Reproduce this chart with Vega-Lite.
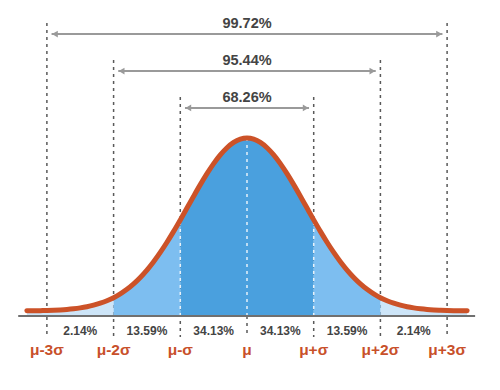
{
  "$schema": "https://vega.github.io/schema/vega-lite/v6.json",
  "width": 500,
  "height": 390,
  "autosize": {"type": "fit", "contains": "padding"},
  "padding": 0,
  "background": "white",
  "config": {"view": {"stroke": null}, "axis": {"disable": true}, "legend": {"disable": true}},
  "datasets": {
    "curve": [
      {"z": -3.3, "y": 0.0292}, {"z": -3.2, "y": 0.0295}, {"z": -3.1, "y": 0.0301}, {"z": -3.0, "y": 0.0310},
      {"z": -2.9, "y": 0.0324}, {"z": -2.8, "y": 0.0344}, {"z": -2.7, "y": 0.0371}, {"z": -2.6, "y": 0.0408},
      {"z": -2.5, "y": 0.0457}, {"z": -2.4, "y": 0.0522}, {"z": -2.3, "y": 0.0607}, {"z": -2.2, "y": 0.0717},
      {"z": -2.1, "y": 0.0855}, {"z": -2.0, "y": 0.1028}, {"z": -1.9, "y": 0.1241}, {"z": -1.8, "y": 0.1498},
      {"z": -1.7, "y": 0.1805}, {"z": -1.6, "y": 0.2164}, {"z": -1.5, "y": 0.2578}, {"z": -1.4, "y": 0.3047},
      {"z": -1.3, "y": 0.3570}, {"z": -1.2, "y": 0.4142}, {"z": -1.1, "y": 0.4755}, {"z": -1.0, "y": 0.5400},
      {"z": -0.9, "y": 0.6063}, {"z": -0.8, "y": 0.6729}, {"z": -0.7, "y": 0.7380}, {"z": -0.6, "y": 0.7997},
      {"z": -0.5, "y": 0.8561}, {"z": -0.4, "y": 0.9053}, {"z": -0.3, "y": 0.9455}, {"z": -0.2, "y": 0.9754},
      {"z": -0.1, "y": 0.9938}, {"z": 0.0, "y": 1.0},
      {"z": 0.1, "y": 0.9938}, {"z": 0.2, "y": 0.9754}, {"z": 0.3, "y": 0.9455}, {"z": 0.4, "y": 0.9053},
      {"z": 0.5, "y": 0.8561}, {"z": 0.6, "y": 0.7997}, {"z": 0.7, "y": 0.7380}, {"z": 0.8, "y": 0.6729},
      {"z": 0.9, "y": 0.6063}, {"z": 1.0, "y": 0.5400}, {"z": 1.1, "y": 0.4755}, {"z": 1.2, "y": 0.4142},
      {"z": 1.3, "y": 0.3570}, {"z": 1.4, "y": 0.3047}, {"z": 1.5, "y": 0.2578}, {"z": 1.6, "y": 0.2164},
      {"z": 1.7, "y": 0.1805}, {"z": 1.8, "y": 0.1498}, {"z": 1.9, "y": 0.1241}, {"z": 2.0, "y": 0.1028},
      {"z": 2.1, "y": 0.0855}, {"z": 2.2, "y": 0.0717}, {"z": 2.3, "y": 0.0607}, {"z": 2.4, "y": 0.0522},
      {"z": 2.5, "y": 0.0457}, {"z": 2.6, "y": 0.0408}, {"z": 2.7, "y": 0.0371}, {"z": 2.8, "y": 0.0344},
      {"z": 2.9, "y": 0.0324}, {"z": 3.0, "y": 0.0310}, {"z": 3.1, "y": 0.0301}, {"z": 3.2, "y": 0.0295},
      {"z": 3.3, "y": 0.0292}
    ],
    "guides": [
      {"z": -3, "y": 1.646, "y2": -0.118},
      {"z": -2, "y": 1.438, "y2": -0.118},
      {"z": -1, "y": 1.230, "y2": -0.118},
      {"z": 0, "y": 0.0, "y2": -0.118},
      {"z": 1, "y": 1.230, "y2": -0.118},
      {"z": 2, "y": 1.438, "y2": -0.118},
      {"z": 3, "y": 1.646, "y2": -0.118}
    ],
    "inner": [
      {"z": -1, "y": 0.0, "y2": 0.54},
      {"z": 0, "y": 0.0, "y2": 0.99},
      {"z": 1, "y": 0.0, "y2": 0.54}
    ],
    "arrows": [
      {"z": -2.93, "z2": 2.93, "y": 1.584, "label": "99.72%", "ty": 1.640},
      {"z": -1.93, "z2": 1.93, "y": 1.376, "label": "95.44%", "ty": 1.433},
      {"z": -0.93, "z2": 0.93, "y": 1.169, "label": "68.26%", "ty": 1.225}
    ],
    "heads": [
      {"z": -2.88, "y": 1.584, "dir": "L"}, {"z": 2.88, "y": 1.584, "dir": "R"},
      {"z": -1.88, "y": 1.376, "dir": "L"}, {"z": 1.88, "y": 1.376, "dir": "R"},
      {"z": -0.88, "y": 1.169, "dir": "L"}, {"z": 0.88, "y": 1.169, "dir": "R"}
    ],
    "pct": [
      {"z": -2.5, "y": -0.084, "label": "2.14%"},
      {"z": -1.5, "y": -0.084, "label": "13.59%"},
      {"z": -0.5, "y": -0.084, "label": "34.13%"},
      {"z": 0.5, "y": -0.084, "label": "34.13%"},
      {"z": 1.5, "y": -0.084, "label": "13.59%"},
      {"z": 2.5, "y": -0.084, "label": "2.14%"}
    ],
    "sig": [
      {"z": -3, "y": -0.19, "label": "μ-3σ"},
      {"z": -2, "y": -0.19, "label": "μ-2σ"},
      {"z": -1, "y": -0.19, "label": "μ-σ"},
      {"z": 0, "y": -0.19, "label": "μ"},
      {"z": 1, "y": -0.19, "label": "μ+σ"},
      {"z": 2, "y": -0.19, "label": "μ+2σ"},
      {"z": 3, "y": -0.19, "label": "μ+3σ"}
    ],
    "base": [{"z": -3.43, "z2": 3.42, "y": 0}]
  },
  "layer": [
    {
      "data": {"name": "guides"},
      "mark": {"type": "rule", "stroke": "#5a5a5a", "strokeWidth": 1.5, "strokeDash": [3, 4]},
      "encoding": {
        "x": {"field": "z", "type": "quantitative", "scale": {"domain": [-3.703, 3.793], "nice": false, "zero": false}},
        "y": {"field": "y", "type": "quantitative", "scale": {"domain": [-0.4157, 1.7753], "nice": false, "zero": false}},
        "y2": {"field": "y2"}
      }
    },
    {
      "data": {"name": "curve"},
      "transform": [{"filter": "datum.z <= -2"}],
      "mark": {"type": "area", "color": "#c8e2f7", "opacity": 0.9, "interpolate": "monotone"},
      "encoding": {"x": {"field": "z", "type": "quantitative"}, "y": {"field": "y", "type": "quantitative"}}
    },
    {
      "data": {"name": "curve"},
      "transform": [{"filter": "datum.z >= 2"}],
      "mark": {"type": "area", "color": "#c8e2f7", "opacity": 0.9, "interpolate": "monotone"},
      "encoding": {"x": {"field": "z", "type": "quantitative"}, "y": {"field": "y", "type": "quantitative"}}
    },
    {
      "data": {"name": "curve"},
      "transform": [{"filter": "datum.z >= -2 && datum.z <= -1"}],
      "mark": {"type": "area", "color": "#7dbef0", "interpolate": "monotone"},
      "encoding": {"x": {"field": "z", "type": "quantitative"}, "y": {"field": "y", "type": "quantitative"}}
    },
    {
      "data": {"name": "curve"},
      "transform": [{"filter": "datum.z >= 1 && datum.z <= 2"}],
      "mark": {"type": "area", "color": "#7dbef0", "interpolate": "monotone"},
      "encoding": {"x": {"field": "z", "type": "quantitative"}, "y": {"field": "y", "type": "quantitative"}}
    },
    {
      "data": {"name": "curve"},
      "transform": [{"filter": "datum.z >= -1 && datum.z <= 1"}],
      "mark": {"type": "area", "color": "#4aa0de", "interpolate": "monotone"},
      "encoding": {"x": {"field": "z", "type": "quantitative"}, "y": {"field": "y", "type": "quantitative"}}
    },
    {
      "data": {"name": "inner"},
      "mark": {"type": "rule", "stroke": "#ffffff", "strokeWidth": 1.5, "strokeDash": [3, 4], "opacity": 0.85},
      "encoding": {"x": {"field": "z", "type": "quantitative"}, "y": {"field": "y", "type": "quantitative"}, "y2": {"field": "y2"}}
    },
    {
      "data": {"name": "base"},
      "mark": {"type": "rule", "stroke": "#707070", "strokeWidth": 2},
      "encoding": {"x": {"field": "z", "type": "quantitative"}, "x2": {"field": "z2"}, "y": {"field": "y", "type": "quantitative"}}
    },
    {
      "data": {"name": "curve"},
      "mark": {"type": "line", "color": "#cc5228", "strokeWidth": 5, "interpolate": "monotone", "strokeCap": "round"},
      "encoding": {"x": {"field": "z", "type": "quantitative"}, "y": {"field": "y", "type": "quantitative"}}
    },
    {
      "data": {"name": "arrows"},
      "mark": {"type": "rule", "stroke": "#9a9a9a", "strokeWidth": 2},
      "encoding": {"x": {"field": "z", "type": "quantitative"}, "x2": {"field": "z2"}, "y": {"field": "y", "type": "quantitative"}}
    },
    {
      "data": {"name": "heads"},
      "mark": {"type": "point", "filled": true, "color": "#9a9a9a", "opacity": 1, "size": 45},
      "encoding": {
        "x": {"field": "z", "type": "quantitative"},
        "y": {"field": "y", "type": "quantitative"},
        "shape": {"field": "dir", "type": "nominal", "scale": {"domain": ["L", "R"], "range": ["triangle-left", "triangle-right"]}, "legend": null}
      }
    },
    {
      "data": {"name": "arrows"},
      "mark": {"type": "text", "font": "Liberation Sans", "fontWeight": "bold", "fontSize": 14.5, "color": "#444444", "baseline": "middle", "align": "center"},
      "encoding": {"x": {"value": 247}, "y": {"field": "ty", "type": "quantitative"}, "text": {"field": "label"}}
    },
    {
      "data": {"name": "pct"},
      "mark": {"type": "text", "font": "Liberation Sans", "fontWeight": "bold", "fontSize": 12, "color": "#444444", "baseline": "middle", "align": "center"},
      "encoding": {"x": {"field": "z", "type": "quantitative"}, "y": {"field": "y", "type": "quantitative"}, "text": {"field": "label"}}
    },
    {
      "data": {"name": "sig"},
      "mark": {"type": "text", "font": "Liberation Sans", "fontWeight": "bold", "fontSize": 15.5, "color": "#c8502a", "baseline": "middle", "align": "center"},
      "encoding": {"x": {"field": "z", "type": "quantitative"}, "y": {"field": "y", "type": "quantitative"}, "text": {"field": "label"}}
    }
  ]
}
